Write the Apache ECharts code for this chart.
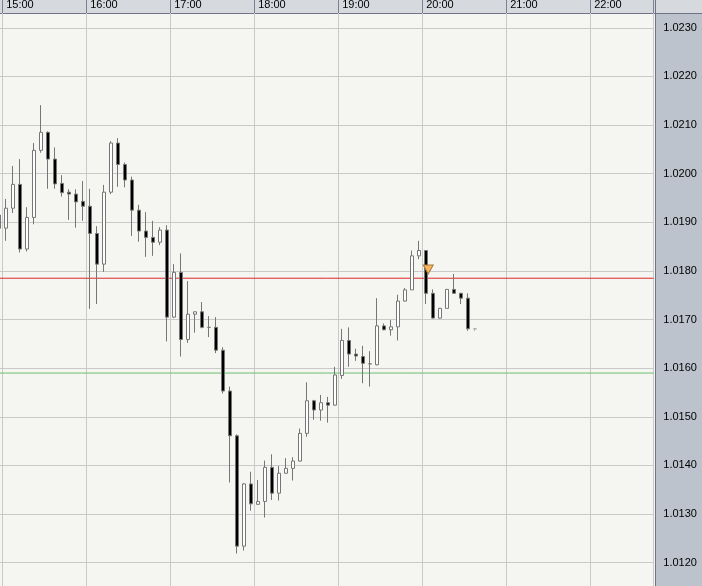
<!DOCTYPE html>
<html>
<head>
<meta charset="utf-8">
<script src="https://cdn.jsdelivr.net/npm/echarts@6/dist/echarts.min.js"></script>
<style>
html,body{margin:0;padding:0;background:#f5f6f1;}
#c{width:702px;height:586px;}
</style>
</head>
<body>
<div id="c"></div>
<script>
// 5-minute slots, 14:55 .. 22:40
const categories = [
 '14:55',
 '15:00','15:05','15:10','15:15','15:20','15:25','15:30','15:35','15:40','15:45','15:50','15:55',
 '16:00','16:05','16:10','16:15','16:20','16:25','16:30','16:35','16:40','16:45','16:50','16:55',
 '17:00','17:05','17:10','17:15','17:20','17:25','17:30','17:35','17:40','17:45','17:50','17:55',
 '18:00','18:05','18:10','18:15','18:20','18:25','18:30','18:35','18:40','18:45','18:50','18:55',
 '19:00','19:05','19:10','19:15','19:20','19:25','19:30','19:35','19:40','19:45','19:50','19:55',
 '20:00','20:05','20:10','20:15','20:20','20:25','20:30','20:35','20:40','20:45','20:50','20:55',
 '21:00','21:05','21:10','21:15','21:20','21:25','21:30','21:35','21:40','21:45','21:50','21:55',
 '22:00','22:05','22:10','22:15','22:20','22:25','22:30','22:35','22:40'
];
const hourLabels = ['15:00','16:00','17:00','18:00','19:00','20:00','21:00','22:00'];

const opens = [1.01915,1.01888,1.01929,1.01978,1.01845,1.01910,1.02048,1.02085,1.02030,1.01980,
 1.01962,1.01958,1.01943,1.01933,1.01877,1.01814,1.01962,1.02063,1.02019,1.01987,
 1.01925,1.01882,1.01869,1.01859,1.01884,1.01705,1.01797,1.01659,1.01711,1.01716,
 1.01684,1.01684,1.01637,1.01553,1.01461,1.01234,1.01362,1.01320,1.01326,1.01396,
 1.01343,1.01384,1.01394,1.01409,1.01466,1.01533,1.01514,1.01529,1.01524,1.01585,
 1.01657,1.01629,1.01624,1.01609,1.01607,1.01687,1.01679,1.01685,1.01738,1.01761,
 1.01831,1.01842,1.01754,1.01703,1.01723,1.01762,1.01754,1.01744,1.01681];
const closes = [1.01888,1.01929,1.01978,1.01845,1.01910,1.02048,1.02085,1.02030,1.01979,1.01961,
 1.01958,1.01942,1.01933,1.01877,1.01814,1.01962,1.02063,1.02019,1.01987,1.01925,
 1.01882,1.01869,1.01859,1.01884,1.01705,1.01797,1.01659,1.01711,1.01716,1.01684,
 1.01684,1.01637,1.01553,1.01461,1.01234,1.01362,1.01321,1.01326,1.01396,1.01343,
 1.01384,1.01394,1.01409,1.01466,1.01533,1.01514,1.01529,1.01524,1.01586,1.01657,
 1.01629,1.01625,1.01610,1.01609,1.01687,1.01679,1.01685,1.01738,1.01761,1.01831,
 1.01842,1.01754,1.01703,1.01723,1.01762,1.01754,1.01744,1.01681,1.01681];
const lows = [1.01884,1.01862,1.01919,1.01838,1.01840,1.01896,1.02043,1.01969,1.01969,1.01953,
 1.01905,1.01889,1.01903,1.01722,1.01732,1.01798,1.01958,1.01973,1.01972,1.01872,
 1.01860,1.01829,1.01831,1.01853,1.01655,1.01703,1.01624,1.01652,1.01673,1.01682,
 1.01664,1.01631,1.01548,1.01365,1.01219,1.01225,1.01307,1.01320,1.01293,1.01329,
 1.01328,1.01383,1.01369,1.01408,1.01459,1.01494,1.01492,1.01488,1.01523,1.01578,
 1.01603,1.01615,1.01569,1.01562,1.01606,1.01678,1.01667,1.01657,1.01737,1.01761,
 1.01824,1.01732,1.01702,1.01702,1.01723,1.01754,1.01732,1.01677,1.01677];
const highs = [1.01919,1.01948,1.02016,1.02030,1.01931,1.02063,1.02141,1.02087,1.02054,1.01997,
 1.01968,1.01968,1.01985,1.01969,1.01892,1.01977,1.02067,1.02073,1.02023,1.01994,
 1.01936,1.01921,1.01903,1.01890,1.01894,1.01814,1.01836,1.01779,1.01716,1.01736,
 1.01707,1.01705,1.01643,1.01562,1.01464,1.01364,1.01387,1.01370,1.01410,1.01423,
 1.01399,1.01415,1.01417,1.01476,1.01571,1.01535,1.01545,1.01541,1.01603,1.01681,
 1.01684,1.01640,1.01646,1.01635,1.01744,1.01692,1.01699,1.01751,1.01765,1.01842,
 1.01862,1.01843,1.01762,1.01724,1.01763,1.01794,1.01755,1.01754,1.01681];

const redLevel = 1.01785;
const greenLevel = 1.01590;
const markerTime = '20:00';
const markerPrice = 1.01803;

const yTicks = {min: 1.0120, max: 1.0230, step: 0.0010};

const candleData = opens.map((o, i) => {
  const item = {value: [o, closes[i], lows[i], highs[i]]};
  if (i === opens.length - 1) {
    item.itemStyle = {borderColor: '#a8a8a8', borderColor0: '#a8a8a8', color: '#a8a8a8', color0: '#a8a8a8'};
  }
  return item;
});

const isHour = (idx, val) => hourLabels.indexOf(val) >= 0;
const FONT = '"Liberation Sans", Arial, sans-serif';

const chart = echarts.init(document.getElementById('c'), null, {renderer: 'canvas'});
chart.setOption({
  animation: false,
  backgroundColor: 'transparent',
  graphic: [
    {type: 'rect', silent: true, z: -10, shape: {x: 0, y: 13, width: 656, height: 573}, style: {fill: '#f5f6f1'}},
    {type: 'rect', silent: true, z: -10, shape: {x: 0, y: 0, width: 702, height: 13}, style: {fill: '#d6dadf'}},
    {type: 'rect', silent: true, z: -10, shape: {x: 655, y: 13, width: 47, height: 573}, style: {fill: '#bcc3cd'}},
    {type: 'rect', silent: true, z: -9, shape: {x: 0, y: 13, width: 702, height: 1}, style: {fill: '#6f7386'}},
    {type: 'rect', silent: true, z: -9, shape: {x: 655, y: 0, width: 1, height: 586}, style: {fill: '#6f7386'}}
  ],
  grid: [
    {left: -4.3, right: 48.3, top: 13, bottom: 0, containLabel: false, outerBoundsMode: 'none'},
    {left: -4.3, right: 48.3, top: 27.8, bottom: 23.3, containLabel: false, outerBoundsMode: 'none'}
  ],
  xAxis: [
    {
      type: 'category', gridIndex: 0, position: 'top', data: categories, boundaryGap: true,
      axisLine: {show: false, onZero: false},
      axisTick: {show: true, interval: isHour, length: 13, inside: false, lineStyle: {color: '#7d8192', width: 1}},
      axisLabel: {show: true, interval: isHour, align: 'left', margin: 3, color: '#000', fontSize: 11, fontFamily: FONT},
      splitLine: {show: true, interval: isHour, lineStyle: {color: '#c9c9c9', width: 1}}
    },
    {
      type: 'category', gridIndex: 1, data: categories, boundaryGap: true, show: false,
      axisLine: {show: false, onZero: false}
    },
    {
      type: 'value', gridIndex: 1, min: 0, max: 1, show: false,
      axisLine: {show: false, onZero: false}, splitLine: {show: false}
    }
  ],
  yAxis: [
    {type: 'value', gridIndex: 0, min: 0, max: 1, show: false, splitLine: {show: false}, axisLine: {onZero: false}},
    {
      type: 'value', gridIndex: 1, position: 'right', offset: 1.6,
      min: yTicks.min, max: yTicks.max, interval: yTicks.step,
      axisLine: {show: false, onZero: false}, axisTick: {show: false},
      axisLabel: {margin: 8, color: '#000', fontSize: 11, fontFamily: FONT, formatter: v => v.toFixed(4)},
      splitLine: {show: true, lineStyle: {color: '#c9c9c9', width: 1}}
    }
  ],
  series: [
    {
      type: 'line', xAxisIndex: 2, yAxisIndex: 1, symbol: 'none', silent: true,
      data: [[0, greenLevel], [1, greenLevel]],
      lineStyle: {color: '#6cbf6c', width: 1}, z: 1
    },
    {
      type: 'line', xAxisIndex: 2, yAxisIndex: 1, symbol: 'none', silent: true,
      data: [[0, redLevel], [1, redLevel]],
      lineStyle: {color: '#e0262a', width: 1}, z: 1
    },
    {
      type: 'candlestick', xAxisIndex: 1, yAxisIndex: 1,
      barWidth: 4, z: 3,
      data: candleData,
      itemStyle: {color: '#ffffff', color0: '#000000', borderColor: '#767676', borderColor0: '#767676', borderWidth: 1},
      markPoint: {
        silent: true,
        data: [{
          coord: [markerTime, markerPrice], symbol: 'triangle', symbolSize: [10, 9], symbolRotate: 180, symbolOffset: [2, 0],
          itemStyle: {color: '#f8b660', borderColor: '#a97a3a', borderWidth: 1}, label: {show: false}
        }]
      }
    }
  ]
});
</script>
</body>
</html>
